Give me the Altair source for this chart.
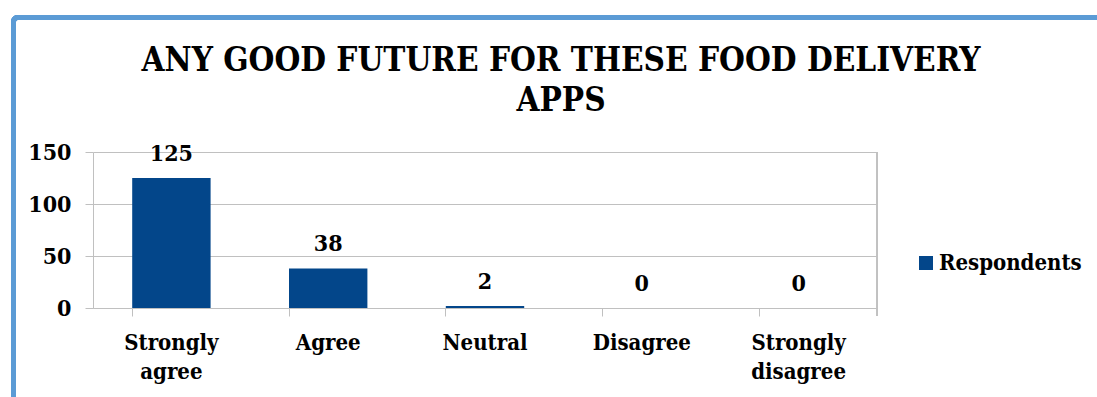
import altair as alt
import pandas as pd

categories = ["Strongly agree", "Agree", "Neutral", "Disagree", "Strongly disagree"]
respondents = [125, 38, 2, 0, 0]
series_name = "Respondents"
title_lines = ["ANY GOOD FUTURE FOR THESE FOOD DELIVERY", "APPS"]

df = pd.DataFrame({"category": categories, "value": respondents, "series": [series_name] * len(categories)})

FONT = "DejaVu Serif Condensed"
BAR = "#03468a"
GRID = "#c0c0c0"
W, H = 784, 156

x_enc = alt.X(
    "category:N",
    sort=None,
    title=None,
    scale=alt.Scale(paddingInner=0.5, paddingOuter=0.25),
    axis=alt.Axis(
        labelAngle=0,
        labelFont=FONT,
        labelFontSize=22,
        labelFontWeight="bold",
        labelColor="black",
        labelExpr="split(datum.label, ' ')",
        labelLineHeight=29,
        labelPadding=16,
        labelOverlap=False,
        bandPosition=0,
        tickSize=8,
        tickColor=GRID,
        domainColor=GRID,
        grid=False,
    ),
)

y_enc = alt.Y(
    "value:Q",
    title=None,
    scale=alt.Scale(domain=[0, 150], padding=0, nice=False),
    axis=alt.Axis(
        values=[0, 50, 100, 150],
        labelFont=FONT,
        labelFontSize=23,
        labelFontWeight="bold",
        labelColor="black",
        labelPadding=14,
        tickSize=8,
        tickColor=GRID,
        domainColor=GRID,
        gridColor=GRID,
    ),
)

bars = alt.Chart(df).mark_bar(color=BAR).encode(
    x=x_enc,
    y=y_enc,
    color=alt.Color(
        "series:N",
        scale=alt.Scale(range=[BAR]),
        legend=alt.Legend(
            title=None,
            orient="none",
            legendX=822,
            legendY=100,
            symbolType="square",
            symbolSize=196,
            symbolStrokeWidth=0,
            labelFont=FONT,
            labelFontSize=22,
            labelFontWeight="bold",
            labelColor="black",
            labelOffset=2,
        ),
    ),
)

labels = alt.Chart(df).mark_text(
    font=FONT, fontSize=23, fontWeight="bold", color="black", baseline="alphabetic", dy=-17
).encode(x=alt.X("category:N", sort=None), y="value:Q", text="value:Q")

right_line = alt.Chart(df).mark_rule(color=GRID, strokeWidth=1).encode(
    x=alt.value(W), y=alt.value(0), y2=alt.value(H + 8)
)

border = alt.Chart(df).mark_rect(
    fill=None, fillOpacity=0, stroke="#5b9bd5", strokeWidth=5, cornerRadius=4
).encode(
    x=alt.value(-79.5), x2=alt.value(1012), y=alt.value(-134.5), y2=alt.value(270)
)

title_marks = [
    alt.Chart(df)
    .transform_filter("datum.category == 'Strongly agree'")
    .mark_text(font=FONT, fontSize=33, fontWeight="bold", color="black", baseline="alphabetic", align="center")
    .encode(x=alt.value(468), y=alt.value(yv), text=alt.value(line))
    for line, yv in zip(title_lines, [-81, -41])
]

chart = (
    alt.layer(bars, labels, right_line, border, *title_marks)
    .properties(
        width=W,
        height=H,
        padding={"left": 93, "top": 152, "right": 220, "bottom": 89},
        autosize=alt.AutoSizeParams(type="none"),
        background="white",
    )
    .configure_view(stroke=None)
)

chart.save("out.html", embed_options={"renderer": "svg", "actions": False})
